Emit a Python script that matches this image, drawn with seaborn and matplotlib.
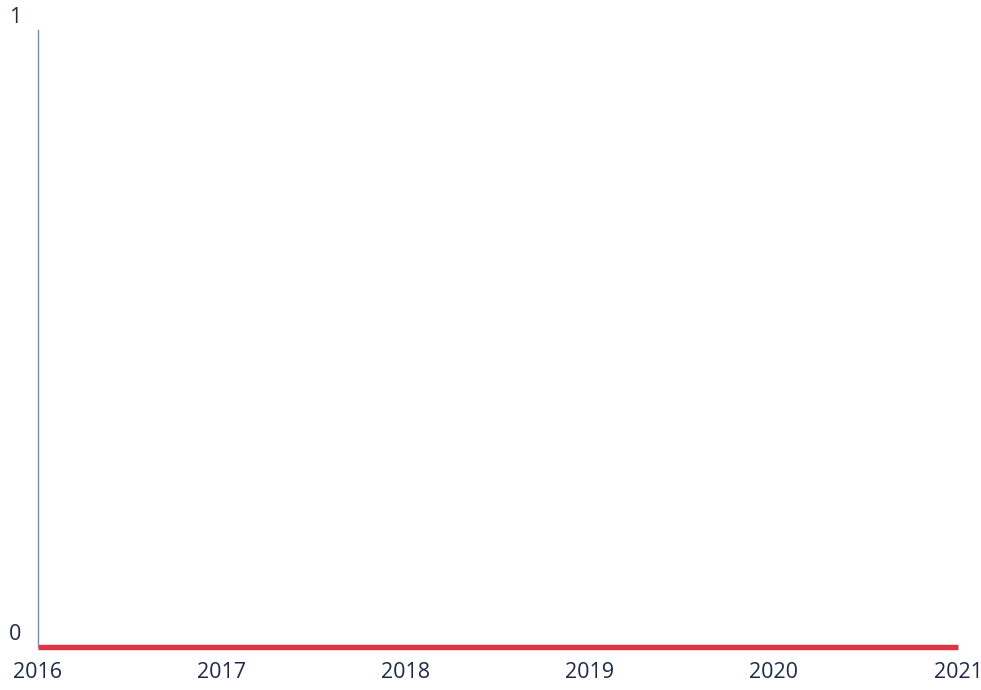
import matplotlib
matplotlib.use("Agg")
import matplotlib.pyplot as plt
import matplotlib.transforms as mtransforms
import seaborn as sns
import pandas as pd

years = [2016, 2017, 2018, 2019, 2020, 2021]
values = [0, 0, 0, 0, 0, 0]
y_ticks = [0, 1]

df = pd.DataFrame({"year": years, "value": values})

sns.set_style("white")
plt.rcParams["font.family"] = ["Open Sans", "DejaVu Sans"]

fig = plt.figure(figsize=(9.81, 6.9), dpi=100)
ax = fig.add_axes([38 / 981, 43 / 690, 920 / 981, 617 / 690])

sns.lineplot(data=df, x="year", y="value", ax=ax, color="#df3444", linewidth=3.9,
             solid_capstyle="butt", clip_on=False)

ax.set_xlim(2016, 2021)
ax.set_ylim(0, 1)
ax.set_xticks(years)
ax.set_xticklabels([str(y) for y in years])
ax.set_yticks(y_ticks)
ax.set_yticklabels([str(t) for t in y_ticks])
ax.set_xlabel("")
ax.set_ylabel("")

for s in ["top", "right", "bottom"]:
    ax.spines[s].set_visible(False)
ax.spines["left"].set_color("#6d8ac9")
ax.spines["left"].set_linewidth(1.0)
ax.spines["left"].set_linestyle((0, (1, 1)))

ax.tick_params(axis="both", length=0, labelsize=15.5, labelcolor="#1e2a48")
ax.tick_params(axis="x", pad=11)
ax.tick_params(axis="y", pad=12)

offset = mtransforms.ScaledTranslation(0, 11 / 72, fig.dpi_scale_trans)
for lbl in ax.get_yticklabels():
    lbl.set_transform(lbl.get_transform() + offset)

fig.savefig("out.png", dpi=100, facecolor="white")
